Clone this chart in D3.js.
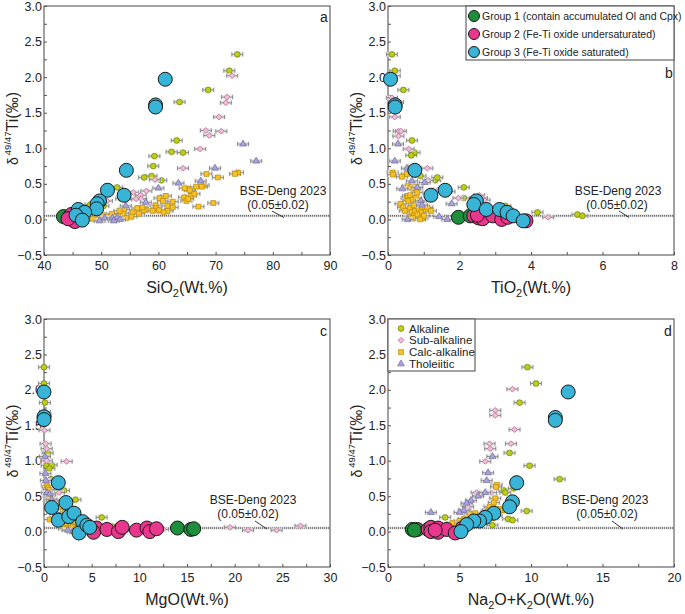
<!DOCTYPE html>
<html><head><meta charset="utf-8">
<script src="https://cdn.jsdelivr.net/npm/d3@7"></script>
<style>body{margin:0;background:#fff}text{font-family:"Liberation Sans",Arial,sans-serif;fill:#222}</style>
</head><body><svg id="c" width="685" height="614"></svg>
<script>
// ---------- DATA ----------
const categories = ["Alkaline","Sub-alkaline","Calc-alkaline","Tholeiitic"];
const groups = ["Group 1 (contain accumulated Ol and Cpx)","Group 2 (Fe-Ti oxide undersaturated)","Group 3 (Fe-Ti oxide saturated)"];
const yTicks = [-0.5,0,0.5,1,1.5,2,2.5,3];
const bseValue = 0.05, bseErr = 0.02;

// Panel a: SiO2
const aAlk = [[73.8,2.32],[72.4,2.09],[68.7,1.82],[63.7,1.65],[63.2,1.11],[59.3,0.89],[62.3,0.95],[64.3,0.94],[59.1,0.75],[57.5,0.59],[58.8,0.61],[60.5,0.55],[52.8,0.45],[48.1,0.21],[50.4,0.19],[53.5,0.29]];
const aSub = [[72.9,2.02],[72.0,1.72],[71.8,1.64],[70.6,1.44],[71.0,1.24],[68.3,1.25],[68.9,1.18],[67.3,0.99],[64.3,0.72],[59.4,0.56],[57.9,0.40],[55.6,0.38],[56.9,0.34],[56.1,0.29],[51.0,0.26],[54.4,0.28],[57.0,0.29]];
const aCalc = [[73.9,0.66],[73.4,0.64],[68.4,0.64],[70.4,0.59],[66.6,0.46],[65.2,0.43],[64.6,0.44],[65.5,0.41],[65.7,0.33],[66.3,0.36],[67.9,0.48],[67.6,0.46],[64.5,0.31],[64.9,0.26],[65.2,0.29],[69.6,0.23],[67.0,0.18],[60.2,0.30],[61.3,0.33],[60.8,0.26],[59.5,0.20],[59.6,0.16],[61.6,0.19],[61.6,0.12],[62.5,0.17],[62.5,0.25],[60.1,0.13],[57.8,0.14],[57.4,0.13],[56.3,0.16],[55.5,0.10],[54.0,0.14],[53.8,0.08],[54.4,0.02],[52.9,0.05],[51.9,0.08],[51.5,0.02],[50.9,0.04],[49.7,0.02],[49.1,0.0],[48.5,0.01],[50.3,0.06],[55.3,0.04],[57.2,0.17],[59.0,0.12],[60.9,0.10],[53.2,0.12],[56.6,0.08]];
const aThol = [[74.8,1.06],[77.1,0.82],[69.9,0.72],[67.4,0.54],[63.5,0.51],[60.0,0.44],[57.8,0.24],[54.3,0.19],[52.0,0.02],[52.8,0.03],[52.2,-0.02],[49.7,-0.02],[50.6,0.02],[53.3,0.0]];
const aG1 = [[43.4,0.04]];
const aG2 = [[44.5,0.04],[44.9,0.0],[45.4,-0.03],[44.8,0.07],[44.2,0.01]];
const aG3 = [[61.2,1.97],[59.5,1.61],[59.5,1.58],[54.4,0.69],[51.1,0.41],[54.0,0.34],[49.7,0.26],[49.3,0.22],[49.2,0.15],[46.0,0.14],[47.1,0.10],[45.6,0.06],[46.7,-0.01]];

// Panel b: TiO2
const bAlk = [[0.11,2.32],[0.19,2.09],[0.43,1.82],[0.28,1.65],[0.67,1.11],[0.74,0.94],[0.65,0.90],[0.73,0.74],[0.91,0.61],[1.32,0.55],[1.38,0.59],[2.12,0.45],[2.12,0.30],[2.5,0.31],[3.28,0.19],[4.18,0.10],[5.3,0.07],[5.44,0.05]];
const bSub = [[0.19,2.02],[0.11,1.71],[0.19,1.44],[0.30,1.24],[0.36,1.24],[0.29,1.17],[0.58,0.99],[1.1,0.72],[1.12,0.55],[1.72,0.39],[1.97,0.30],[2.55,0.34],[2.7,0.27],[2.63,0.30],[1.42,0.42],[4.48,0.03]];
const bCalc = [[0.13,0.66],[0.14,0.63],[0.39,0.60],[0.53,0.64],[0.55,0.47],[0.35,0.22],[0.42,0.17],[0.47,0.12],[0.52,0.30],[0.56,0.33],[0.57,0.26],[0.62,0.34],[0.62,0.16],[0.66,0.10],[0.72,0.20],[0.77,0.43],[0.80,0.46],[0.82,0.38],[0.72,0.05],[0.76,0.12],[0.86,0.15],[0.92,0.10],[0.96,0.02],[1.0,0.05],[1.06,0.14],[0.86,0.25],[0.64,0.45],[0.69,0.28],[0.9,0.0],[1.1,0.17],[0.6,0.03],[0.79,0.30],[1.2,0.12],[0.82,0.07],[0.7,0.02],[0.95,0.18]];
const bThol = [[0.28,1.06],[0.19,0.82],[0.53,0.72],[0.67,0.54],[1.03,0.52],[0.82,0.45],[0.92,0.26],[1.78,0.22],[1.43,0.04],[1.66,0.0],[0.55,0.0],[0.95,0.20],[0.4,0.43]];
const bG1 = [[1.97,0.03],[2.3,0.05]];
const bG2 = [[2.4,0.05],[2.54,0.02],[2.65,0.01],[2.93,0.05],[3.18,0.0],[3.35,0.03],[3.86,-0.02],[2.5,0.06]];
const bG3 = [[0.07,1.97],[0.2,1.61],[0.2,1.58],[0.75,0.69],[1.2,0.34],[1.6,0.41],[2.47,0.26],[2.4,0.21],[2.75,0.14],[3.12,0.14],[3.33,0.10],[3.5,0.05],[3.78,-0.02]];

// Panel c: MgO
const cAlk = [[0.0,2.32],[0.0,2.09],[0.1,1.82],[0.15,1.65],[0.38,1.11],[0.28,0.93],[0.8,0.94],[0.56,0.89],[0.73,0.74],[0.9,0.6],[1.15,0.55],[2.1,0.58],[3.3,0.45],[6.05,0.20],[2.5,0.30],[7.2,0.07],[0.5,0.5],[1.9,0.3]];
const cSub = [[2.38,0.99],[19.5,0.06],[21.4,0.02],[24.4,0.02],[26.9,0.08],[0.1,1.69],[0.05,1.43],[0.17,1.24],[0.28,1.17],[1.57,0.55],[12.5,0.03],[0.15,1.64],[0.3,1.0],[0.5,0.72],[1.2,0.4],[2.6,0.27],[0.7,0.36],[4.3,0.1]];
const cCalc = [[0.3,0.65],[0.4,0.62],[0.5,0.59],[0.6,0.5],[0.7,0.46],[0.8,0.44],[1.0,0.43],[1.1,0.36],[1.3,0.33],[1.4,0.3],[1.5,0.26],[1.7,0.3],[1.9,0.22],[2.0,0.18],[2.2,0.15],[2.4,0.12],[2.6,0.19],[2.8,0.1],[3.0,0.06],[3.2,0.14],[3.4,0.05],[1.2,0.2],[2.5,0.25],[0.9,0.28],[1.6,0.12],[3.7,0.03],[4.2,0.1],[2.1,0.04],[1.8,0.35],[0.6,0.17],[5.8,0.02],[6.3,0.04]];
const cThol = [[0.1,1.06],[0.15,0.82],[0.2,0.72],[0.3,0.55],[0.6,0.53],[0.8,0.45],[1.2,0.27],[1.6,0.22],[2.5,0.02],[3.0,0.0],[4.5,0.04],[5.5,0.03],[6.5,0.02],[7.5,0.06],[8.5,0.02]];
const cG1 = [[14.0,0.05],[15.4,0.03],[15.7,0.04]];
const cG2 = [[5.5,0.05],[5.2,-0.01],[6.6,0.03],[7.8,0.0],[8.2,0.06],[9.7,0.02],[10.8,0.05],[11.1,0.0],[11.8,0.04]];
const cG3 = [[0.0,1.97],[0.0,1.62],[0.0,1.58],[1.5,0.69],[0.8,0.34],[2.3,0.41],[1.5,0.16],[2.6,0.21],[3.15,0.26],[4.05,0.14],[3.67,-0.02],[4.5,0.09],[4.8,0.06]];

// Panel d: Na2O+K2O
const dAlk = [[9.75,2.32],[10.35,2.09],[9.2,1.82],[8.5,1.11],[9.9,0.93],[12.0,0.74],[8.1,0.58],[8.2,0.55],[8.8,0.61],[6.9,0.29],[9.7,0.29],[4.0,0.20],[8.4,0.18],[8.7,0.16],[7.3,0.09]];
const dSub = [[8.7,2.01],[7.5,1.71],[7.5,1.64],[8.85,1.44],[7.1,1.24],[7.15,1.17],[8.6,1.24],[6.8,0.99],[6.2,0.55],[7.2,0.55],[5.5,0.38],[5.6,0.35],[5.4,0.30],[5.3,0.27],[6.3,0.51]];
const dCalc = [[7.6,0.66],[7.55,0.63],[7.5,0.47],[7.4,0.41],[7.8,0.32],[8.0,0.30],[6.1,0.26],[5.7,0.25],[7.0,0.30],[7.3,0.19],[5.0,0.15],[4.5,0.12],[5.3,0.18],[5.8,0.15],[6.5,0.22],[7.1,0.35],[8.2,0.30],[7.6,0.22],[6.0,0.1],[5.5,0.05]];
const dThol = [[7.3,1.06],[7.0,0.83],[6.9,0.72],[6.8,0.55],[6.3,0.50],[5.8,0.44],[5.5,0.40],[3.0,0.27],[5.3,0.30],[5.0,0.27]];
const dG1 = [[1.7,0.03],[2.05,0.03],[1.85,0.02]];
const dG2 = [[2.8,0.03],[3.0,0.06],[3.0,0.0],[3.5,0.05],[3.5,-0.01],[4.1,0.03],[4.7,-0.02],[5.2,0.05],[3.3,0.02]];
const dG3 = [[12.6,1.97],[11.7,1.61],[11.7,1.57],[9.0,0.69],[8.7,0.42],[8.5,0.35],[7.4,0.26],[6.8,0.20],[6.4,0.15],[6.0,0.15],[5.5,0.10],[5.1,0.0]];

const xTicksA = [40,50,60,70,80,90], xTicksB = [0,2,4,6,8], xTicksC = [0,5,10,15,20,25,30], xTicksD = [0,5,10,15,20];

// ---------- STYLE ----------
const catStyle = {
  "Alkaline": {shape:d3.symbolCircle, size:26, rot:0, fill:"#bccf16", stroke:"#6d7a10"},
  "Sub-alkaline": {shape:d3.symbolSquare, size:17, rot:45, fill:"#f5bcd9", stroke:"#a8698e"},
  "Calc-alkaline": {shape:d3.symbolSquare, size:24, rot:0, fill:"#f6c224", stroke:"#b88a0c"},
  "Tholeiitic": {shape:d3.symbolTriangle, size:20, rot:0, fill:"#aaa3d9", stroke:"#6f6aa2"}
};
const grpFill = ["#1d8f3c","#e8378c","#37b4d6"];
const grpR = 7;

const svg = d3.select("#c");

const panels = [
 {L:"a", x0:44,x1:330,y0:6,y1:255, dom:[40,90], ticks:xTicksA, minor:5, title:["SiO","2","(Wt.%)"], data:[aAlk,aSub,aCalc,aThol], grp:[aG1,aG2,aG3],
  ann:{t1:[283,195], t2:[278,208.5], l:[[272,211],[284,217.5]]}, letter:[320,22]},
 {L:"b", x0:388,x1:674,y0:6,y1:255, dom:[0,8], ticks:xTicksB, minor:1, title:["TiO","2","(Wt.%)"], data:[bAlk,bSub,bCalc,bThol], grp:[bG1,bG2,bG3],
  ann:{t1:[618,195], t2:[617,208.5], l:[[619,211],[629,217.5]]}, letter:[665,78]},
 {L:"c", x0:44,x1:330,y0:319,y1:567, dom:[0,30], ticks:xTicksC, minor:2.5, title:["MgO","","(Wt.%)"], data:[cAlk,cSub,cCalc,cThol], grp:[cG1,cG2,cG3],
  ann:{t1:[253,504], t2:[248,517.5], l:[[255,521],[267,529]]}, letter:[320,336]},
 {L:"d", x0:388,x1:674,y0:319,y1:567, dom:[0,20], ticks:xTicksD, minor:2.5, title:null, data:[dAlk,dSub,dCalc,dThol], grp:[dG1,dG2,dG3],
  ann:{t1:[605,504], t2:[607,517.5], l:[[612,521],[623,529]]}, letter:[664,336]}
];

panels.forEach(p=>{
  const x = d3.scaleLinear().domain(p.dom).range([p.x0,p.x1]);
  const y = d3.scaleLinear().domain([-0.5,3]).range([p.y1,p.y0]);
  const g = svg.append("g");
  // BSE band
  g.append("rect").attr("x",p.x0).attr("width",p.x1-p.x0)
    .attr("y",y(bseValue+bseErr)).attr("height",y(bseValue-bseErr)-y(bseValue+bseErr))
    .attr("fill","#d9d9d9");
  g.append("line").attr("x1",p.x0).attr("x2",p.x1).attr("y1",y(bseValue)).attr("y2",y(bseValue))
    .attr("stroke","#333").attr("stroke-width",1).attr("stroke-dasharray","1,1");
  // axes
  const minorX = d3.range(p.dom[0], p.dom[1]+1e-9, p.minor);
  const xAx = d3.axisBottom(x).tickValues(minorX).tickSize(-3)
      .tickFormat(v=>p.ticks.includes(+v.toFixed(3))? d3.format("d")(v):"");
  const gx = g.append("g").attr("transform",`translate(0,${p.y1})`).call(xAx);
  gx.selectAll("text").attr("dy","0.9em").attr("font-size",12.5).attr("y",4);
  const minorY = d3.range(-0.5,3.0001,0.25);
  const yAx = d3.axisLeft(y).tickValues(minorY).tickSize(-3)
      .tickFormat(v=>yTicks.includes(v)? d3.format(".1f")(v):"");
  const gy = g.append("g").attr("transform",`translate(${p.x0},0)`).call(yAx);
  gy.selectAll("text").attr("font-size",12.5).attr("x",-2);
  [gx,gy].forEach(a=>{a.select(".domain").remove(); a.selectAll("line").attr("stroke","#555"); a.selectAll("text").attr("fill","#222").style("font-family","'Liberation Sans',Arial,sans-serif");});
  g.append("rect").attr("x",p.x0).attr("y",p.y0).attr("width",p.x1-p.x0).attr("height",p.y1-p.y0)
    .attr("fill","none").attr("stroke","#555").attr("stroke-width",1.1);

  // small category points with error bars
  p.data.forEach((arr,i)=>{
    const st = catStyle[categories[i]];
    const sg = g.append("g");
    arr.forEach(d=>{
      const cx=x(d[0]), cy=y(d[1]);
      sg.append("rect").attr("x",cx-6.5).attr("y",cy-2.5).attr("width",13).attr("height",5).attr("fill","#e4e4e4").attr("opacity",0.7);
      sg.append("path").attr("d",`M${cx-5.5},${cy}H${cx+5.5}M${cx-5.5},${cy-2}V${cy+2}M${cx+5.5},${cy-2}V${cy+2}`)
        .attr("stroke","#7a7a7a").attr("stroke-width",0.8).attr("fill","none");
    });
    sg.selectAll("path.m").data(arr).join("path").attr("class","m")
      .attr("transform",d=>`translate(${x(d[0])},${y(d[1])}) rotate(${st.rot})`)
      .attr("d",d3.symbol().type(st.shape).size(st.size))
      .attr("fill",st.fill).attr("stroke",st.stroke).attr("stroke-width",0.7);
  });
  // group circles
  p.grp.forEach((arr,i)=>{
    g.append("g").selectAll("circle").data(arr).join("circle")
      .attr("cx",d=>x(d[0])).attr("cy",d=>y(d[1])).attr("r",grpR)
      .attr("fill",grpFill[i]).attr("stroke","#1a1a1a").attr("stroke-width",1);
  });

  // BSE annotation
  g.append("text").attr("x",p.ann.t1[0]).attr("y",p.ann.t1[1]).attr("text-anchor","middle").attr("font-size",12).text("BSE-Deng 2023");
  g.append("text").attr("x",p.ann.t2[0]).attr("y",p.ann.t2[1]).attr("text-anchor","middle").attr("font-size",12).text("(0.05±0.02)");
  g.append("line").attr("x1",p.ann.l[0][0]).attr("y1",p.ann.l[0][1]).attr("x2",p.ann.l[1][0]).attr("y2",p.ann.l[1][1]).attr("stroke","#222").attr("stroke-width",0.9);
  // letter
  g.append("text").attr("x",p.letter[0]).attr("y",p.letter[1]).attr("font-size",14).text(p.L);

  // x title
  const cxm = (p.x0+p.x1)/2, ty = p.y1+38;
  const xt = g.append("text").attr("x",cxm).attr("y",ty).attr("text-anchor","middle").attr("font-size",16);
  if(p.title){
    xt.append("tspan").text(p.title[0]);
    if(p.title[1]) xt.append("tspan").attr("font-size",11).attr("dy",4).text(p.title[1]);
    xt.append("tspan").attr("dy",p.title[1]? -4:0).text(p.title[2]);
  } else {
    xt.append("tspan").text("Na");
    xt.append("tspan").attr("font-size",11).attr("dy",4).text("2");
    xt.append("tspan").attr("dy",-4).text("O+K");
    xt.append("tspan").attr("font-size",11).attr("dy",4).text("2");
    xt.append("tspan").attr("dy",-4).text("O(Wt.%)");
  }
  // y title
  const ym = (p.y0+p.y1)/2 - 2;
  const yt = g.append("text").attr("transform",`translate(${p.x0-26},${ym}) rotate(-90)`).attr("text-anchor","middle").attr("font-size",16);
  yt.append("tspan").attr("font-size",14).text("δ");
  yt.append("tspan").attr("font-size",9.5).attr("dy",-7).attr("dx",2).text("49/47");
  yt.append("tspan").attr("dy",7).text("Ti(‰)");
});

// Legend in panel b (groups)
(function(){
  const lx=466, ly=6, w=674-466, h=54;
  const lg = svg.append("g");
  lg.append("rect").attr("x",lx).attr("y",ly).attr("width",w).attr("height",h).attr("fill","#fff").attr("stroke","#555").attr("stroke-width",1.1);
  groups.forEach((t,i)=>{
    const yy = ly+10+i*18;
    lg.append("circle").attr("cx",lx+8).attr("cy",yy).attr("r",5.5).attr("fill",grpFill[i]).attr("stroke","#1a1a1a");
    lg.append("text").attr("x",lx+16).attr("y",yy+4).attr("font-size",10.5).text(t);
  });
})();
// Legend in panel d (categories)
(function(){
  const lx=388, ly=319, w=475-388, h=52;
  const lg = svg.append("g");
  lg.append("rect").attr("x",lx).attr("y",ly).attr("width",w).attr("height",h).attr("fill","#fff").attr("stroke","#555").attr("stroke-width",1.1);
  categories.forEach((c,i)=>{
    const yy = ly+9.5+i*11.8, st=catStyle[c];
    lg.append("path").attr("transform",`translate(${lx+13},${yy}) rotate(${st.rot})`).attr("d",d3.symbol().type(st.shape).size(st.size))
      .attr("fill",st.fill).attr("stroke",st.stroke).attr("stroke-width",0.7);
    lg.append("text").attr("x",lx+21).attr("y",yy+4).attr("font-size",11.5).text(c);
  });
})();
</script></body></html>
